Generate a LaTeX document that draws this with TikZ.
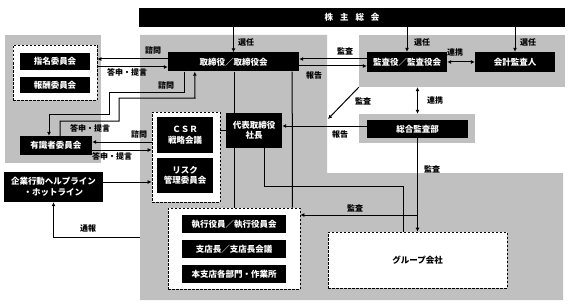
\documentclass[tikz,border=0pt]{standalone}
\usepackage{fontspec}
\setmainfont{Noto Sans CJK JP}
\usepackage{xcolor}
\usepackage{tikz}
\usetikzlibrary{arrows.meta, calc}
\definecolor{panelgray}{HTML}{C0C0C0}

\begin{document}
\begin{tikzpicture}[x=1pt, y=-1pt, font=\bfseries\fontsize{8.5}{10.5}\selectfont,
  blackbox/.style={fill=black, text=white, inner sep=0pt, align=center},
  dashbox/.style={draw, fill=white, line width=0.7pt, dash pattern=on 2.5pt off 1.5pt, inner sep=0pt},
  panel/.style={fill=panelgray, inner sep=0pt},
  lbl/.style={font=\bfseries\fontsize{8}{9}\selectfont, inner sep=0pt},
  link/.style={line width=1pt},
  arr/.style={link, -{Latex[length=4pt,width=4pt]}},
  biarr/.style={link, {Latex[length=4pt,width=4pt]}-{Latex[length=4pt,width=4pt]}}]
  \useasboundingbox (0,0) rectangle (570,305);

  % grey areas
  \node[panel, minimum width=96pt, minimum height=128pt] (leftpanel) at (53,99) {};
  \fill[panelgray] (140,35) -- (327,35) -- (327,173) -- (563,173) -- (563,300) -- (140,300) -- cycle;
  \node[panel, minimum width=206pt, minimum height=52pt] (auditpanel) at (462,61) {};
  \node[panel, minimum width=116pt, minimum height=29pt] (intpanel) at (417,128.5) {};

  \node[blackbox, minimum width=426pt, minimum height=19pt] (meeting) at (352,17.5) {株\hspace{7pt}主\hspace{7pt}総\hspace{7pt}会};
  \node[blackbox, minimum width=131pt, minimum height=19pt] (board) at (233.5,62) {取締役／取締役会};
  \node[blackbox, minimum width=80pt, minimum height=20pt] (auditors) at (407,62) {監査役／監査役会};
  \node[blackbox, minimum width=80pt, minimum height=20pt] (accountant) at (515,62) {会計監査人};
  \node[blackbox, minimum width=101pt, minimum height=18pt] (internal) at (417.5,129) {総合監査部};

  \node[dashbox, minimum width=84pt, minimum height=55pt] (nomframe) at (55,72.5) {};
  \node[blackbox, minimum width=70pt, minimum height=17pt] (nomination) at (55,61.5) {指名委員会};
  \node[blackbox, minimum width=70pt, minimum height=16pt] (remuneration) at (55,85) {報酬委員会};
  \node[blackbox, minimum width=72pt, minimum height=19pt] (advisory) at (56,145.5) {有識者委員会};
  \node[blackbox, minimum width=99pt, minimum height=30pt] (helpline) at (53.5,187) {企業行動ヘルプライン\\・ホットライン};

  \node[dashbox, minimum width=68pt, minimum height=90pt] (csrframe) at (186,157) {};
  \node[blackbox, minimum width=56pt, minimum height=36pt] (csr) at (185,135) {ＣＳＲ\\戦略会議};
  \node[blackbox, minimum width=56pt, minimum height=35pt] (risk) at (185,175.5) {リスク\\管理委員会};
  \node[blackbox, minimum width=56pt, minimum height=35pt] (president) at (254,130.5) {代表取締役\\社長};

  \node[dashbox, minimum width=132pt, minimum height=81pt] (execframe) at (234,248.5) {};
  \node[blackbox, minimum width=104pt, minimum height=18pt] (officers) at (234,224) {執行役員／執行役員会};
  \node[blackbox, minimum width=104pt, minimum height=18pt] (branches) at (234,249) {支店長／支店長会議};
  \node[blackbox, minimum width=104pt, minimum height=18pt] (divisions) at (234,274) {本支店各部門・作業所};
  \node[dashbox, minimum width=179pt, minimum height=56pt] (group) at (417.5,260) {グループ会社};

  \coordinate (diagend) at (328,119);
  \coordinate (branch) at (417.5,215);
  \coordinate (report) at (140,237);

  \draw[arr] (meeting.south -| board.north) -- (board.north);
  \draw[arr] (meeting.south -| auditors.north) -- (auditors.north);
  \draw[arr] (meeting.south -| accountant.north) -- (accountant.north);
  \draw[biarr] (auditors.east) -- (accountant.west);
  \draw[arr] ([yshift=3pt]auditors.west) -- ([yshift=3pt]auditors.west -| board.east);
  \draw[arr] ([yshift=-4pt]board.east) -- ([yshift=-4pt]board.east -| auditors.west);
  \draw[biarr] (auditpanel.south -| internal.north) -- (intpanel.north -| internal.north);
  \draw[arr] (auditpanel.south west) -- (diagend);
  \draw[arr] ([yshift=3pt]internal.west) -- ([yshift=3pt]internal.west -| president.east);
  \draw[arr] (internal.south) -- (group.north);
  \draw[arr] (branch) -- (branch -| execframe.east);

  \draw[link] (board.south -| execframe.north) -- (president.north -| execframe.north);
  \draw[link] (president.south -| execframe.north) -- (execframe.north);
  \draw[link] ($(board.south east)+(-7,0)$) -- ($(execframe.north east)+(-8,0)$);
  \draw[link] ($(president.south)+(10,0)$) |- ($(group.north)+(-14.5,-45)$) -- ($(group.north)+(-14.5,0)$);
  \draw[link] (president.west) -- (president.west -| csrframe.east);

  \draw[arr] ([yshift=3pt]board.west) -- ([yshift=3pt]board.west -| nomframe.east);
  \draw[arr] ([yshift=-5pt]board.west -| nomframe.east) -- ([yshift=-5pt]board.west);
  \draw[arr] ($(board.south west)+(17,0)$) |- (109,92) |- (49,114) -- ($(advisory.north)+(-7,0)$);
  \draw[arr] ($(advisory.north)+(4,0)$) |- (119,121) |- (195,98) -- ($(board.south west)+(27,0)$);
  \draw[arr] ([yshift=3.5pt]advisory.east -| csrframe.west) -- ([yshift=3.5pt]advisory.east);
  \draw[arr] ([yshift=-4.5pt]advisory.east) -- ([yshift=-4.5pt]advisory.east -| csrframe.west);
  \draw[arr] ([yshift=5pt]helpline.east) -- ([yshift=5pt]helpline.east -| csrframe.west);
  \draw[arr] (report) -| (helpline.south);

  \node[lbl] (electboard) at (246,42) {選任};
  \node[lbl] (electauditors) at (422,42) {選任};
  \node[lbl] (electaccountant) at (528,42) {選任};
  \node[lbl] (coopaccountant) at (455,52) {連携};
  \node[lbl] (auditboard) at (345,51) {監査};
  \node[lbl] (reportboard) at (314,75) {報告};
  \node[lbl] (coopinternal) at (435,100) {連携};
  \node[lbl] (auditdiag) at (363,101) {監査};
  \node[lbl] (reportpres) at (340,134) {報告};
  \node[lbl] (auditgroup) at (432,169) {監査};
  \node[lbl] (auditexec) at (355,208) {監査};
  \node[lbl] (consultcom) at (153,50) {諮問};
  \node[lbl] (answercom) at (127,72) {答申・提言};
  \node[lbl] (consultadv) at (166,85) {諮問};
  \node[lbl] (answeradv) at (90,128) {答申・提言};
  \node[lbl] (consultcsr) at (139,134) {諮問};
  \node[lbl] (answercsr) at (112,156) {答申・提言};
  \node[lbl] (whistle) at (88,228) {通報};
\end{tikzpicture}
\end{document}
